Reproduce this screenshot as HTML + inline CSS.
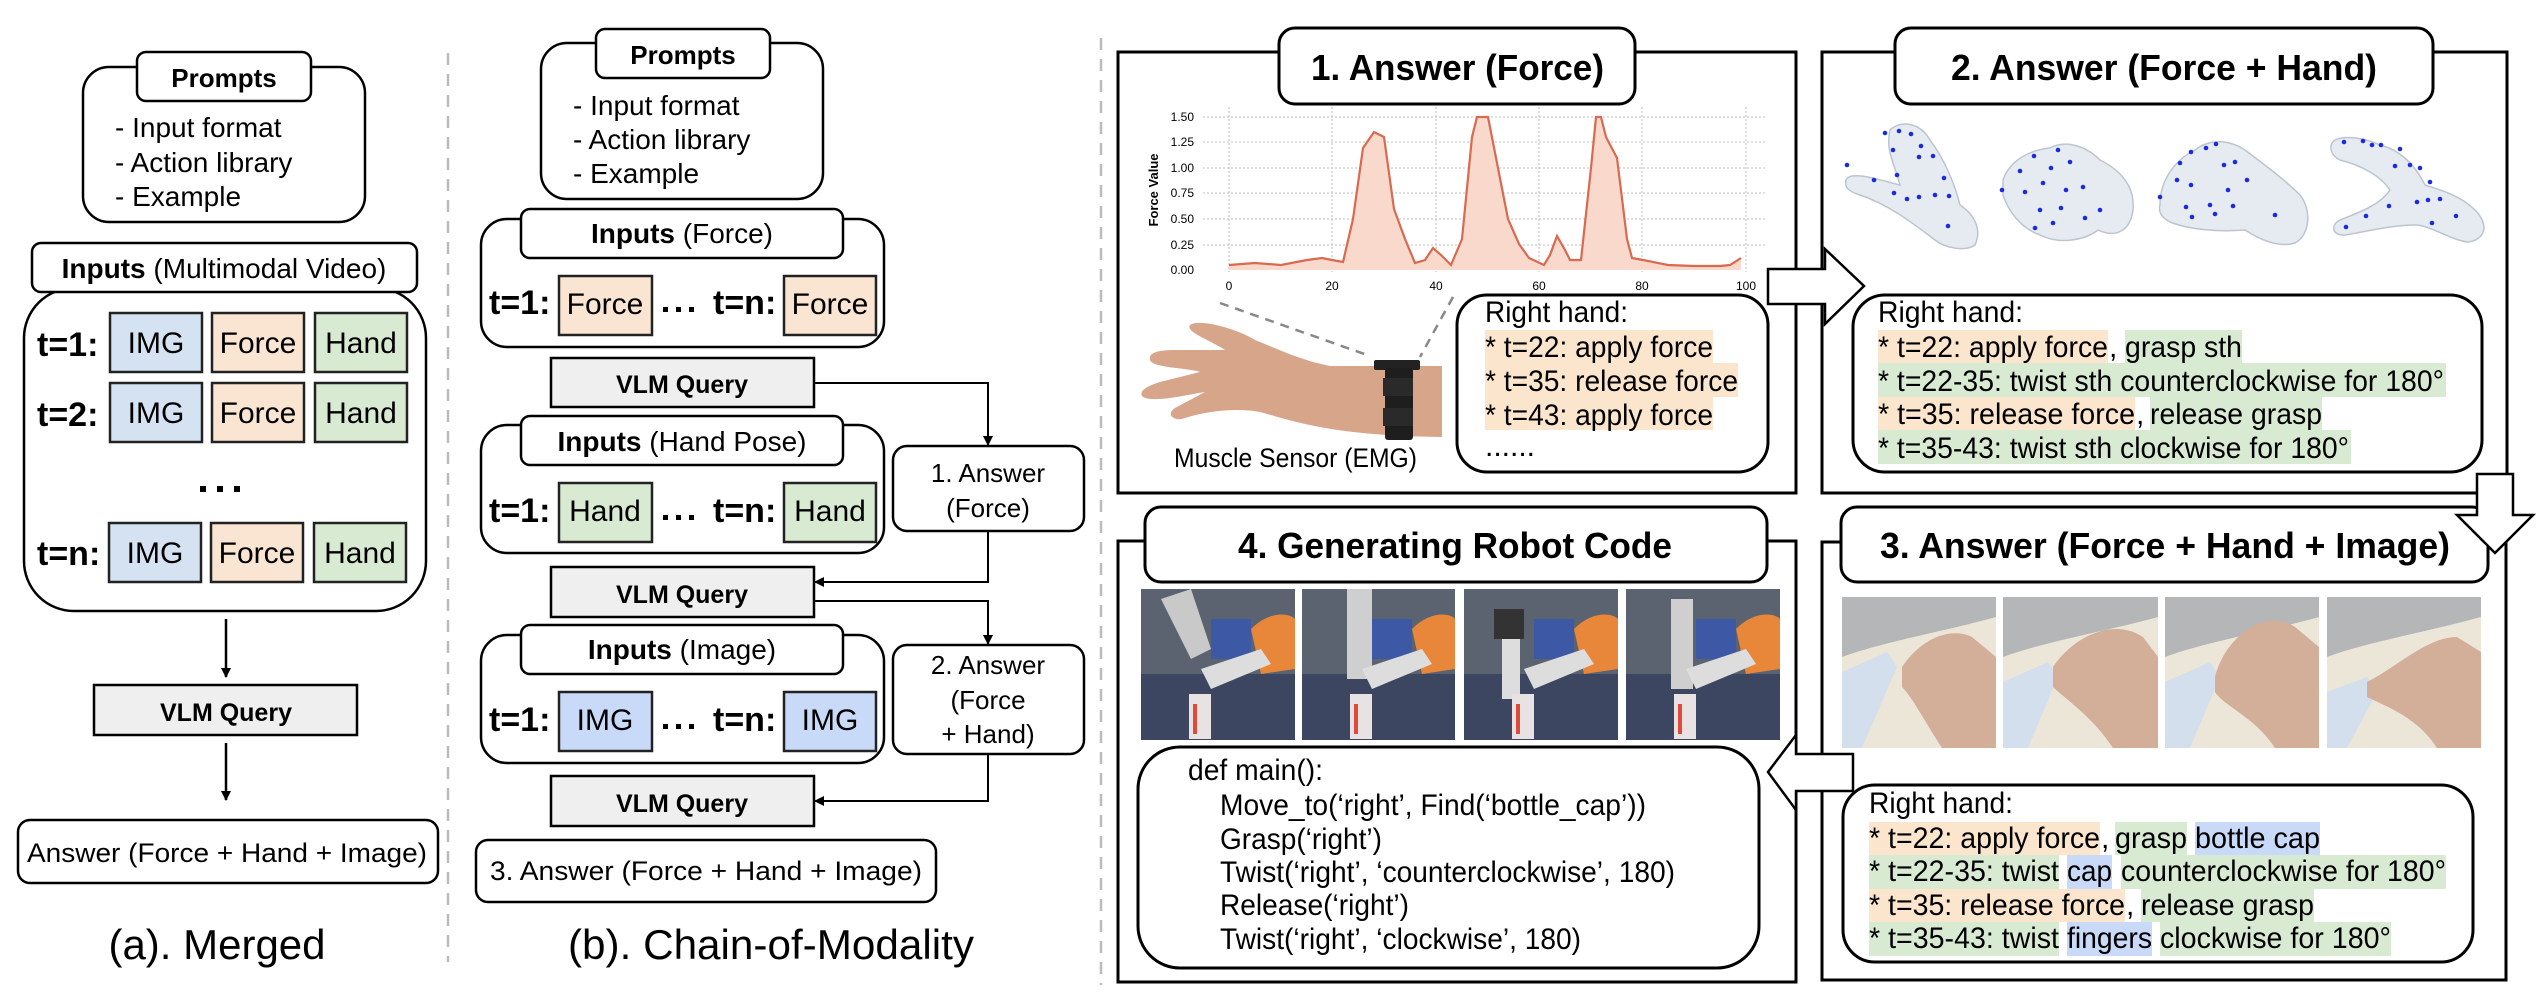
<!DOCTYPE html>
<html><head><meta charset="utf-8"><style>
html,body{margin:0;padding:0;background:#fff;}
svg{display:block;}
text{font-family:"Liberation Sans",Arial,sans-serif;fill:#000;}
.b{font-weight:bold;}
</style></head><body>
<svg width="2542" height="1002" viewBox="0 0 2542 1002" xmlns="http://www.w3.org/2000/svg">
<defs>
<marker id="ah" markerWidth="10" markerHeight="10" refX="9" refY="5" orient="auto" markerUnits="userSpaceOnUse"><path d="M0,0 L10,5 L0,10 z" fill="#000"/></marker>
</defs>

<line x1="448" y1="53" x2="448" y2="962" stroke="#bbb" stroke-width="2.5" stroke-dasharray="12,9"/>
<line x1="1101" y1="38" x2="1101" y2="985" stroke="#bbb" stroke-width="2.5" stroke-dasharray="12,9"/>

<!-- ============ PANEL A ============ -->
<g stroke="#000" stroke-width="2.5" fill="#fff">
<rect x="83" y="67" width="282" height="155" rx="26"/>
<rect x="137" y="52" width="174" height="49" rx="9"/>
<rect x="24" y="288" width="402" height="323" rx="50"/>
<rect x="32" y="243" width="385" height="49" rx="9"/>
</g>
<text x="224" y="87" font-size="26" class="b" text-anchor="middle">Prompts</text>
<text x="115" y="137" font-size="28">- Input format</text>
<text x="115" y="172" font-size="28">- Action library</text>
<text x="115" y="206" font-size="28">- Example</text>
<text x="224" y="278" font-size="28" text-anchor="middle"><tspan class="b">Inputs</tspan> (Multimodal Video)</text>
<g stroke="#222" stroke-width="2.5">
<rect x="110" y="313" width="92" height="59" fill="#d5e2f2"/>
<rect x="212" y="313" width="92" height="59" fill="#fae5d3"/>
<rect x="315" y="313" width="92" height="59" fill="#d9ead3"/>
<rect x="110" y="383" width="92" height="59" fill="#d5e2f2"/>
<rect x="212" y="383" width="92" height="59" fill="#fae5d3"/>
<rect x="315" y="383" width="92" height="59" fill="#d9ead3"/>
<rect x="109" y="523" width="92" height="59" fill="#d5e2f2"/>
<rect x="211" y="523" width="92" height="59" fill="#fae5d3"/>
<rect x="314" y="523" width="92" height="59" fill="#d9ead3"/>
</g>
<g font-size="30" text-anchor="middle">
<text x="156" y="353">IMG</text><text x="258" y="353">Force</text><text x="361" y="353">Hand</text>
<text x="156" y="423">IMG</text><text x="258" y="423">Force</text><text x="361" y="423">Hand</text>
<text x="155" y="563">IMG</text><text x="257" y="563">Force</text><text x="360" y="563">Hand</text>
</g>
<g font-size="34" class="b">
<text x="37" y="356" class="b">t=1:</text>
<text x="37" y="426" class="b">t=2:</text>
<text x="37" y="565" class="b">t=n:</text>
</g>
<g fill="#000"><rect x="200" y="486" width="6" height="6"/><rect x="217" y="486" width="6" height="6"/><rect x="234" y="486" width="6" height="6"/></g>
<line x1="226" y1="619" x2="226" y2="677" stroke="#000" stroke-width="2.5" marker-end="url(#ah)"/>
<rect x="94" y="685" width="263" height="50" fill="#efefef" stroke="#000" stroke-width="2.5"/>
<text x="226" y="721" font-size="25" class="b" text-anchor="middle">VLM Query</text>
<line x1="226" y1="743" x2="226" y2="800" stroke="#000" stroke-width="2.5" marker-end="url(#ah)"/>
<rect x="18" y="820" width="420" height="63" rx="12" fill="#fff" stroke="#000" stroke-width="2.5"/>
<text x="227" y="862" font-size="27" text-anchor="middle" textLength="400" lengthAdjust="spacingAndGlyphs">Answer (Force + Hand + Image)</text>
<text x="217" y="959" font-size="42" text-anchor="middle">(a). Merged</text>

<!-- ============ PANEL B ============ -->
<g stroke="#000" stroke-width="2.5" fill="#fff">
<rect x="541" y="43" width="282" height="156" rx="26"/>
<rect x="596" y="29" width="174" height="49" rx="9"/>
<rect x="481" y="219" width="403" height="128" rx="26"/>
<rect x="521" y="209" width="322" height="49" rx="9"/>
<rect x="481" y="425" width="403" height="128" rx="26"/>
<rect x="521" y="416" width="322" height="49" rx="9"/>
<rect x="481" y="635" width="403" height="128" rx="26"/>
<rect x="521" y="625" width="322" height="49" rx="9"/>
<rect x="893" y="446" width="191" height="85" rx="14"/>
<rect x="893" y="645" width="191" height="109" rx="14"/>
<rect x="476" y="840" width="460" height="62" rx="12"/>
</g>
<text x="683" y="64" font-size="26" class="b" text-anchor="middle">Prompts</text>
<text x="573" y="115" font-size="28">- Input format</text>
<text x="573" y="149" font-size="28">- Action library</text>
<text x="573" y="183" font-size="28">- Example</text>
<g font-size="28" text-anchor="middle">
<text x="682" y="243"><tspan class="b">Inputs</tspan> (Force)</text>
<text x="682" y="451"><tspan class="b">Inputs</tspan> (Hand Pose)</text>
<text x="682" y="659"><tspan class="b">Inputs</tspan> (Image)</text>
</g>
<g stroke="#222" stroke-width="2.5">
<rect x="559" y="276" width="93" height="59" fill="#fae5d3"/>
<rect x="784" y="276" width="92" height="59" fill="#fae5d3"/>
<rect x="559" y="483" width="93" height="59" fill="#d9ead3"/>
<rect x="784" y="483" width="92" height="59" fill="#d9ead3"/>
<rect x="559" y="692" width="93" height="59" fill="#c9daf8"/>
<rect x="784" y="692" width="92" height="59" fill="#c9daf8"/>
</g>
<g font-size="30" text-anchor="middle">
<text x="605" y="314">Force</text><text x="830" y="314">Force</text>
<text x="605" y="521">Hand</text><text x="830" y="521">Hand</text>
<text x="605" y="730">IMG</text><text x="830" y="730">IMG</text>
</g>
<g font-size="34" class="b">
<text x="489" y="314" class="b">t=1:</text><text x="713" y="314" class="b">t=n:</text>
<text x="489" y="522" class="b">t=1:</text><text x="713" y="522" class="b">t=n:</text>
<text x="489" y="731" class="b">t=1:</text><text x="713" y="731" class="b">t=n:</text>
</g>
<g fill="#000">
<rect x="663" y="307" width="5" height="5"/><rect x="676" y="307" width="5" height="5"/><rect x="689" y="307" width="5" height="5"/>
<rect x="663" y="515" width="5" height="5"/><rect x="676" y="515" width="5" height="5"/><rect x="689" y="515" width="5" height="5"/>
<rect x="663" y="724" width="5" height="5"/><rect x="676" y="724" width="5" height="5"/><rect x="689" y="724" width="5" height="5"/>
</g>
<g stroke="#000" stroke-width="2.5" fill="#efefef">
<rect x="551" y="358" width="263" height="49"/>
<rect x="551" y="567" width="263" height="50"/>
<rect x="551" y="776" width="263" height="50"/>
</g>
<g font-size="25" class="b" text-anchor="middle">
<text x="682" y="393" class="b">VLM Query</text>
<text x="682" y="603" class="b">VLM Query</text>
<text x="682" y="812" class="b">VLM Query</text>
</g>
<g stroke="#000" stroke-width="2" fill="none">
<polyline points="814,383 988,383 988,445" marker-end="url(#ah)"/>
<polyline points="988,531 988,582 815,582" marker-end="url(#ah)"/>
<polyline points="814,601 988,601 988,644" marker-end="url(#ah)"/>
<polyline points="988,754 988,801 815,801" marker-end="url(#ah)"/>
</g>
<g font-size="26" text-anchor="middle">
<text x="988" y="482">1. Answer</text>
<text x="988" y="517">(Force)</text>
<text x="988" y="674">2. Answer</text>
<text x="988" y="709">(Force</text>
<text x="988" y="743">+ Hand)</text>
</g>
<text x="706" y="880" font-size="27" text-anchor="middle" textLength="432" lengthAdjust="spacingAndGlyphs">3. Answer (Force + Hand + Image)</text>
<text x="771" y="959" font-size="42" text-anchor="middle" textLength="406" lengthAdjust="spacingAndGlyphs">(b). Chain-of-Modality</text>

<!-- ============ RIGHT PANELS ============ -->
<g stroke="#000" stroke-width="3" fill="#fff">
<rect x="1118" y="52" width="678" height="441"/>
<rect x="1822" y="52" width="685" height="441"/>
<rect x="1118" y="541" width="678" height="441"/>
<rect x="1822" y="542" width="684" height="438"/>
</g>
<g stroke="#000" stroke-width="3" fill="#fff">
<rect x="1279" y="28" width="356" height="76" rx="16"/>
<rect x="1895" y="28" width="538" height="76" rx="16"/>
<rect x="1145" y="507" width="622" height="75" rx="16"/>
<rect x="1841" y="507" width="647" height="75" rx="16"/>
</g>
<g font-size="36" class="b">
<text x="1311" y="80" class="b" textLength="293" lengthAdjust="spacingAndGlyphs">1. Answer (Force)</text>
<text x="1951" y="80" class="b" textLength="426" lengthAdjust="spacingAndGlyphs">2. Answer (Force + Hand)</text>
<text x="1238" y="558" class="b" textLength="434" lengthAdjust="spacingAndGlyphs">4. Generating Robot Code</text>
<text x="1880" y="558" class="b" textLength="570" lengthAdjust="spacingAndGlyphs">3. Answer (Force + Hand + Image)</text>
</g>

<!-- chart -->
<g stroke="#ccc" stroke-width="1.3" stroke-dasharray="2,2">
<line x1="1203" y1="117" x2="1766" y2="117"/><line x1="1203" y1="142" x2="1766" y2="142"/>
<line x1="1203" y1="168" x2="1766" y2="168"/><line x1="1203" y1="193" x2="1766" y2="193"/>
<line x1="1203" y1="219" x2="1766" y2="219"/><line x1="1203" y1="245" x2="1766" y2="245"/>
<line x1="1229" y1="107" x2="1229" y2="272"/><line x1="1332" y1="107" x2="1332" y2="272"/>
<line x1="1436" y1="107" x2="1436" y2="272"/><line x1="1539" y1="107" x2="1539" y2="272"/>
<line x1="1642" y1="107" x2="1642" y2="272"/><line x1="1746" y1="107" x2="1746" y2="272"/>
</g>
<polygon fill="#f8d9cc" points="1229,270 1229,265 1255,263 1281,265 1307,260 1322,258 1332,260 1343,262 1353,219 1363,148 1374,132 1384,137 1394,209 1405,239 1415,263 1425,260 1433,248 1441,255 1451,265 1462,239 1472,137 1477,117 1488,117 1498,168 1508,219 1519,244 1529,258 1544,265 1550,255 1557,236 1565,250 1570,260 1581,260 1591,168 1596,117 1601,117 1606,137 1617,158 1627,239 1632,258 1643,260 1668,265 1694,266 1720,266 1730,265 1741,258 1741,270"/>
<polyline fill="none" stroke="#d9694f" stroke-width="2.2" points="1229,265 1255,263 1281,265 1307,260 1322,258 1332,260 1343,262 1353,219 1363,148 1374,132 1384,137 1394,209 1405,239 1415,263 1425,260 1433,248 1441,255 1451,265 1462,239 1472,137 1477,117 1488,117 1498,168 1508,219 1519,244 1529,258 1544,265 1550,255 1557,236 1565,250 1570,260 1581,260 1591,168 1596,117 1601,117 1606,137 1617,158 1627,239 1632,258 1643,260 1668,265 1694,266 1720,266 1730,265 1741,258"/>
<g font-size="12" text-anchor="end">
<text x="1194" y="121" fill="#555">1.50</text><text x="1194" y="146" fill="#555">1.25</text>
<text x="1194" y="172" fill="#555">1.00</text><text x="1194" y="197" fill="#555">0.75</text>
<text x="1194" y="223" fill="#555">0.50</text><text x="1194" y="249" fill="#555">0.25</text>
<text x="1194" y="274" fill="#555">0.00</text>
</g>
<g font-size="12" text-anchor="middle">
<text x="1229" y="290" fill="#555">0</text><text x="1332" y="290" fill="#555">20</text>
<text x="1436" y="290" fill="#555">40</text><text x="1539" y="290" fill="#555">60</text>
<text x="1642" y="290" fill="#555">80</text><text x="1746" y="290" fill="#555">100</text>
</g>
<text x="0" y="0" font-size="13" class="b" fill="#444" text-anchor="middle" transform="translate(1158,190) rotate(-90)">Force Value</text>

<!-- arm -->
<g stroke="#888" stroke-width="2.5" stroke-dasharray="9,7">
<line x1="1220" y1="303" x2="1370" y2="356"/>
<line x1="1453" y1="297" x2="1420" y2="357"/>
</g>
<path fill="#d6a58a" d="M1442,366 L1330,366 C1300,360 1280,350 1255,340 C1240,330 1200,318 1190,325 C1185,332 1210,340 1225,350 L1175,350 C1160,350 1148,352 1150,360 C1152,368 1190,368 1200,372 L1160,382 C1140,388 1138,395 1145,398 C1160,402 1190,394 1205,392 L1175,408 C1165,415 1175,422 1185,418 C1210,410 1240,408 1260,412 C1290,420 1330,436 1442,437 Z"/>
<rect x="1374" y="360" width="46" height="10" fill="#222" rx="2"/>
<rect x="1385" y="368" width="28" height="72" fill="#1e1e1e" rx="3"/>
<rect x="1383" y="378" width="30" height="18" fill="#2a2a2a"/>
<rect x="1383" y="408" width="30" height="18" fill="#2a2a2a"/>
<text x="1174" y="467" font-size="27" textLength="243" lengthAdjust="spacingAndGlyphs">Muscle Sensor (EMG)</text>

<rect x="1457" y="295" width="311" height="177" rx="30" fill="#fff" stroke="#000" stroke-width="3"/>
<g fill="#fce5cd">
<rect x="1485" y="330" width="228" height="33"/>
<rect x="1485" y="363" width="253" height="34"/>
<rect x="1485" y="397" width="228" height="33"/>
</g>
<g font-size="30">
<text x="1485" y="322" textLength="143" lengthAdjust="spacingAndGlyphs">Right hand:</text>
<text x="1485" y="357" textLength="228" lengthAdjust="spacingAndGlyphs">* t=22: apply force</text>
<text x="1485" y="391" textLength="253" lengthAdjust="spacingAndGlyphs">* t=35: release force</text>
<text x="1485" y="425" textLength="228" lengthAdjust="spacingAndGlyphs">* t=43: apply force</text>
<text x="1485" y="456">......</text>
</g>

<!-- panel 2 hands -->
<g fill="#e6ebf1" stroke="#bcc5cf" stroke-width="1.5">
<path d="M1846,180 C1850,170 1880,180 1900,185 C1895,165 1885,150 1890,130 C1900,120 1920,122 1930,140 C1945,160 1955,185 1960,205 C1975,215 1982,230 1975,245 C1965,252 1945,248 1935,240 C1915,225 1890,205 1860,195 C1850,192 1844,188 1846,180 Z"/>
<path d="M2003,180 C2010,160 2030,150 2050,148 C2065,140 2085,145 2100,160 C2120,170 2135,185 2133,210 C2130,232 2115,238 2098,230 C2085,240 2060,245 2040,235 C2020,228 2008,210 2003,195 Z"/>
<path d="M2160,205 C2160,180 2175,160 2195,150 C2210,138 2230,140 2245,150 C2265,165 2285,180 2300,195 C2312,210 2310,235 2295,243 C2280,248 2260,240 2245,230 C2220,232 2190,230 2170,222 C2162,218 2158,212 2160,205 Z"/>
<path d="M2335,140 C2345,135 2365,138 2380,145 C2400,150 2415,165 2425,185 C2440,190 2460,195 2475,210 C2490,225 2485,240 2468,242 C2450,240 2430,225 2415,225 C2390,225 2365,232 2345,235 C2332,236 2330,225 2340,220 C2360,212 2380,205 2390,190 C2380,175 2360,165 2340,160 C2330,155 2328,145 2335,140 Z"/>
</g>
<g fill="#1a2bdd">
<circle cx="1885" cy="133" r="2.3"/><circle cx="1899" cy="131" r="2.3"/><circle cx="1911" cy="134" r="2.3"/><circle cx="1893" cy="150" r="2.3"/><circle cx="1921" cy="146" r="2.3"/><circle cx="1919" cy="157" r="2.3"/><circle cx="1933" cy="156" r="2.3"/><circle cx="1847" cy="165" r="2.3"/><circle cx="1874" cy="180" r="2.3"/><circle cx="1897" cy="175" r="2.3"/><circle cx="1944" cy="178" r="2.3"/><circle cx="1894" cy="193" r="2.3"/><circle cx="1907" cy="199" r="2.3"/><circle cx="1919" cy="197" r="2.3"/><circle cx="1935" cy="195" r="2.3"/><circle cx="1949" cy="196" r="2.3"/><circle cx="1948" cy="226" r="2.3"/>
<circle cx="2034" cy="156" r="2.3"/><circle cx="2058" cy="150" r="2.3"/><circle cx="2070" cy="162" r="2.3"/><circle cx="2020" cy="171" r="2.3"/><circle cx="2051" cy="168" r="2.3"/><circle cx="2043" cy="183" r="2.3"/><circle cx="2066" cy="190" r="2.3"/><circle cx="2083" cy="187" r="2.3"/><circle cx="2002" cy="190" r="2.3"/><circle cx="2025" cy="192" r="2.3"/><circle cx="2061" cy="208" r="2.3"/><circle cx="2040" cy="210" r="2.3"/><circle cx="2100" cy="210" r="2.3"/><circle cx="2085" cy="218" r="2.3"/><circle cx="2035" cy="228" r="2.3"/><circle cx="2053" cy="223" r="2.3"/>
<circle cx="2191" cy="152" r="2.3"/><circle cx="2206" cy="148" r="2.3"/><circle cx="2216" cy="144" r="2.3"/><circle cx="2180" cy="163" r="2.3"/><circle cx="2224" cy="165" r="2.3"/><circle cx="2235" cy="162" r="2.3"/><circle cx="2177" cy="180" r="2.3"/><circle cx="2191" cy="185" r="2.3"/><circle cx="2247" cy="180" r="2.3"/><circle cx="2228" cy="190" r="2.3"/><circle cx="2160" cy="197" r="2.3"/><circle cx="2186" cy="207" r="2.3"/><circle cx="2210" cy="205" r="2.3"/><circle cx="2233" cy="206" r="2.3"/><circle cx="2192" cy="217" r="2.3"/><circle cx="2215" cy="214" r="2.3"/><circle cx="2275" cy="215" r="2.3"/>
<circle cx="2344" cy="142" r="2.3"/><circle cx="2363" cy="141" r="2.3"/><circle cx="2372" cy="145" r="2.3"/><circle cx="2381" cy="145" r="2.3"/><circle cx="2400" cy="149" r="2.3"/><circle cx="2395" cy="166" r="2.3"/><circle cx="2410" cy="165" r="2.3"/><circle cx="2420" cy="168" r="2.3"/><circle cx="2430" cy="182" r="2.3"/><circle cx="2417" cy="202" r="2.3"/><circle cx="2428" cy="200" r="2.3"/><circle cx="2440" cy="199" r="2.3"/><circle cx="2389" cy="206" r="2.3"/><circle cx="2366" cy="216" r="2.3"/><circle cx="2456" cy="216" r="2.3"/><circle cx="2432" cy="223" r="2.3"/><circle cx="2346" cy="227" r="2.3"/>
</g>

<rect x="1853" y="295" width="629" height="177" rx="32" fill="#fff" stroke="#000" stroke-width="3"/>
<g>
<rect x="1878" y="330" width="230" height="33" fill="#fce5cd"/>
<rect x="2125" y="330" width="117" height="33" fill="#d9ead3"/>
<rect x="1878" y="363" width="568" height="34" fill="#d9ead3"/>
<rect x="1878" y="397" width="257" height="33" fill="#fce5cd"/>
<rect x="2150" y="397" width="172" height="33" fill="#d9ead3"/>
<rect x="1878" y="430" width="473" height="34" fill="#d9ead3"/>
</g>
<g font-size="30">
<text x="1878" y="322" textLength="145" lengthAdjust="spacingAndGlyphs">Right hand:</text>
<text x="1878" y="357" textLength="230" lengthAdjust="spacingAndGlyphs">* t=22: apply force</text><text x="2109" y="357">,</text>
<text x="2125" y="357" textLength="117" lengthAdjust="spacingAndGlyphs">grasp sth</text>
<text x="1878" y="391" textLength="566" lengthAdjust="spacingAndGlyphs">* t=22-35: twist sth counterclockwise for 180°</text>
<text x="1878" y="424" textLength="257" lengthAdjust="spacingAndGlyphs">* t=35: release force</text><text x="2136" y="424">,</text>
<text x="2150" y="424" textLength="172" lengthAdjust="spacingAndGlyphs">release grasp</text>
<text x="1878" y="458" textLength="471" lengthAdjust="spacingAndGlyphs">* t=35-43: twist sth clockwise for 180°</text>
</g>

<!-- panel 4 robot images -->
<g>
<g transform="translate(1141,589)">
<rect width="154" height="151" fill="#5b6270"/><rect y="85" width="154" height="66" fill="#3c4660"/>
<path d="M110,40 C130,20 150,25 154,30 L154,80 L120,85 Z" fill="#e8873a"/><rect x="70" y="30" width="40" height="40" fill="#3d59a6"/>
<path d="M20,10 L50,0 L70,60 L50,70 Z" fill="#c9c9c9"/><path d="M60,80 L120,60 L130,75 L70,100 Z" fill="#ddd"/>
<rect x="48" y="105" width="22" height="45" fill="#e9e2e2"/><rect x="52" y="115" width="4" height="30" fill="#e04a3a"/>
</g>
<g transform="translate(1302,589)">
<rect width="153" height="151" fill="#5b6270"/><rect y="85" width="153" height="66" fill="#3c4660"/>
<path d="M110,40 C130,20 150,25 153,30 L153,80 L120,85 Z" fill="#e8873a"/><rect x="70" y="30" width="40" height="40" fill="#3d59a6"/>
<rect x="45" y="0" width="25" height="90" fill="#cfcfcf"/><path d="M60,80 L120,60 L130,75 L70,100 Z" fill="#ddd"/>
<rect x="48" y="105" width="22" height="45" fill="#e9e2e2"/><rect x="52" y="115" width="4" height="30" fill="#e04a3a"/>
</g>
<g transform="translate(1464,589)">
<rect width="154" height="151" fill="#5b6270"/><rect y="85" width="154" height="66" fill="#3c4660"/>
<path d="M110,40 C130,20 150,25 154,30 L154,80 L120,85 Z" fill="#e8873a"/><rect x="70" y="30" width="40" height="40" fill="#3d59a6"/>
<rect x="30" y="20" width="30" height="30" fill="#333"/><rect x="38" y="50" width="18" height="60" fill="#ddd"/><path d="M60,80 L120,60 L130,75 L70,100 Z" fill="#ddd"/>
<rect x="48" y="105" width="22" height="45" fill="#e9e2e2"/><rect x="52" y="115" width="4" height="30" fill="#e04a3a"/>
</g>
<g transform="translate(1626,589)">
<rect width="154" height="151" fill="#5b6270"/><rect y="85" width="154" height="66" fill="#3c4660"/>
<path d="M110,40 C130,20 150,25 154,30 L154,80 L120,85 Z" fill="#e8873a"/><rect x="70" y="30" width="40" height="40" fill="#3d59a6"/>
<rect x="45" y="10" width="22" height="90" fill="#cfcfcf"/><path d="M60,80 L120,60 L130,75 L70,100 Z" fill="#ddd"/>
<rect x="48" y="105" width="22" height="45" fill="#e9e2e2"/><rect x="52" y="115" width="4" height="30" fill="#e04a3a"/>
</g>
</g>
<rect x="1138" y="747" width="621" height="221" rx="42" fill="#fff" stroke="#000" stroke-width="3"/>
<g font-size="30">
<text x="1188" y="780" textLength="135" lengthAdjust="spacingAndGlyphs">def main():</text>
<text x="1220" y="815" textLength="426" lengthAdjust="spacingAndGlyphs">Move_to(‘right’, Find(‘bottle_cap’))</text>
<text x="1220" y="849" textLength="162" lengthAdjust="spacingAndGlyphs">Grasp(‘right’)</text>
<text x="1220" y="882" textLength="455" lengthAdjust="spacingAndGlyphs">Twist(‘right’, ‘counterclockwise’, 180)</text>
<text x="1220" y="915" textLength="189" lengthAdjust="spacingAndGlyphs">Release(‘right’)</text>
<text x="1220" y="949" textLength="361" lengthAdjust="spacingAndGlyphs">Twist(‘right’, ‘clockwise’, 180)</text>
</g>

<!-- panel 3 images -->
<g>
<g transform="translate(1842,597)">
<rect width="154" height="151" fill="#ece6d8"/><path d="M0,0 L154,0 L154,20 C100,35 40,45 0,60 Z" fill="#b4b6b8"/>
<path d="M0,75 L45,55 L55,70 L20,151 L0,151 Z" fill="#d3dfec"/>
<path d="M60,70 C80,40 110,30 130,40 L154,60 L154,151 L100,151 C80,120 70,100 60,90 Z" fill="#d3ae98"/>
</g>
<g transform="translate(2003,597)">
<rect width="155" height="151" fill="#ece6d8"/><path d="M0,0 L155,0 L155,20 C100,35 40,45 0,60 Z" fill="#b4b6b8"/>
<path d="M0,85 L45,65 L55,80 L25,151 L0,151 Z" fill="#d3dfec"/>
<path d="M50,70 C70,40 110,20 140,40 L155,60 L155,151 L110,151 C90,120 60,100 50,90 Z" fill="#d3ae98"/>
</g>
<g transform="translate(2165,597)">
<rect width="154" height="151" fill="#ece6d8"/><path d="M0,0 L154,0 L154,20 C100,35 40,45 0,60 Z" fill="#b4b6b8"/>
<path d="M0,85 L45,65 L55,80 L25,151 L0,151 Z" fill="#d3dfec"/>
<path d="M50,80 C60,40 100,10 130,30 L154,50 L154,151 L110,151 C90,120 60,110 50,95 Z" fill="#d3ae98"/>
</g>
<g transform="translate(2327,597)">
<rect width="154" height="151" fill="#ece6d8"/><path d="M0,0 L154,0 L154,20 C100,35 40,45 0,60 Z" fill="#b4b6b8"/>
<path d="M0,95 L40,80 L50,95 L20,151 L0,151 Z" fill="#d3dfec"/>
<path d="M40,85 C70,70 100,40 130,40 L154,55 L154,151 L110,151 C90,120 60,110 40,100 Z" fill="#d3ae98"/>
</g>
</g>
<rect x="1843" y="785" width="630" height="177" rx="32" fill="#fff" stroke="#000" stroke-width="3"/>
<g>
<rect x="1869" y="822" width="231" height="33" fill="#fce5cd"/>
<rect x="2115" y="822" width="72" height="33" fill="#d9ead3"/>
<rect x="2195" y="822" width="125" height="33" fill="#c9daf8"/>
<rect x="1869" y="855" width="190" height="34" fill="#d9ead3"/>
<rect x="2067" y="855" width="45" height="34" fill="#c9daf8"/>
<rect x="2121" y="855" width="325" height="34" fill="#d9ead3"/>
<rect x="1869" y="889" width="256" height="33" fill="#fce5cd"/>
<rect x="2141" y="889" width="173" height="33" fill="#d9ead3"/>
<rect x="1869" y="922" width="190" height="34" fill="#d9ead3"/>
<rect x="2067" y="922" width="85" height="34" fill="#c9daf8"/>
<rect x="2160" y="922" width="231" height="34" fill="#d9ead3"/>
</g>
<g font-size="30">
<text x="1869" y="813" textLength="144" lengthAdjust="spacingAndGlyphs">Right hand:</text>
<text x="1869" y="848" textLength="231" lengthAdjust="spacingAndGlyphs">* t=22: apply force</text><text x="2101" y="848">,</text>
<text x="2115" y="848" textLength="72" lengthAdjust="spacingAndGlyphs">grasp</text>
<text x="2195" y="848" textLength="125" lengthAdjust="spacingAndGlyphs">bottle cap</text>
<text x="1869" y="881" textLength="190" lengthAdjust="spacingAndGlyphs">* t=22-35: twist</text>
<text x="2067" y="881" textLength="45" lengthAdjust="spacingAndGlyphs">cap</text>
<text x="2121" y="881" textLength="325" lengthAdjust="spacingAndGlyphs">counterclockwise for 180°</text>
<text x="1869" y="915" textLength="256" lengthAdjust="spacingAndGlyphs">* t=35: release force</text><text x="2126" y="915">,</text>
<text x="2141" y="915" textLength="173" lengthAdjust="spacingAndGlyphs">release grasp</text>
<text x="1869" y="948" textLength="190" lengthAdjust="spacingAndGlyphs">* t=35-43: twist</text>
<text x="2067" y="948" textLength="85" lengthAdjust="spacingAndGlyphs">fingers</text>
<text x="2160" y="948" textLength="231" lengthAdjust="spacingAndGlyphs">clockwise for 180°</text>
</g>

<g fill="#fff" stroke="#000" stroke-width="2.5">
<polygon points="1768,269 1825,269 1825,249 1864,286 1825,324 1825,304 1768,304"/>
<polygon points="2477,474 2513,474 2513,515 2533,515 2495,553 2457,515 2477,515"/>
<polygon points="1853,754 1796,754 1796,735 1768,772 1796,810 1796,791 1853,791"/>
</g>
</svg>
</body></html>
